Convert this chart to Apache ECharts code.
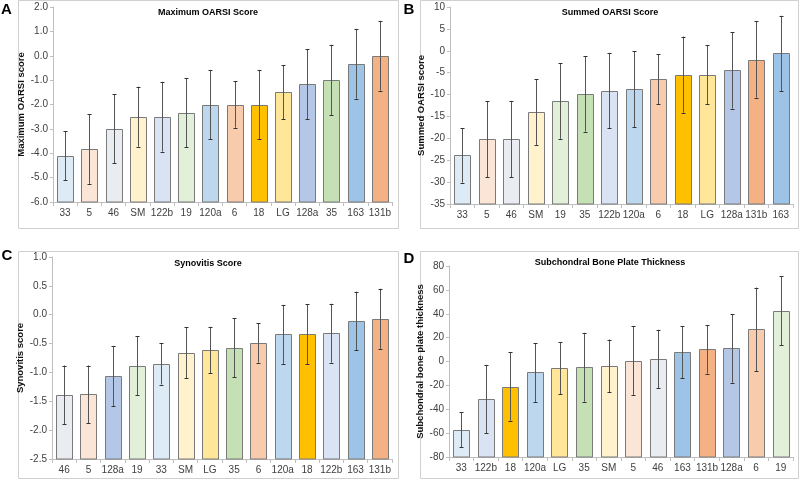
<!DOCTYPE html>
<html><head><meta charset="utf-8">
<script src="https://cdn.jsdelivr.net/npm/echarts@6/dist/echarts.min.js"></script>
<style>html,body{margin:0;padding:0;background:#fff}#c{width:800px;height:480px}</style>
</head><body><div id="c"></div>
<script>
// ---- Data ----
const catsA = ['33','5','46','SM','122b','19','120a','6','18','LG','128a','35','163','131b'];
const valsA = [-4.1,-3.82,-3.0,-2.5,-2.5,-2.33,-2.0,-2.0,-2.0,-1.5,-1.17,-1.0,-0.33,0.0];
const errA  = [1.0,1.43,1.42,1.23,1.43,1.42,1.42,0.95,1.42,1.11,1.43,1.45,1.43,1.43];

const catsB = ['33','5','46','SM','19','35','122b','120a','6','18','LG','128a','131b','163'];
const valsB = [-23.9,-20.2,-20.15,-14.0,-11.5,-9.85,-9.1,-8.8,-6.5,-5.45,-5.45,-4.5,-2.0,-0.6];
const errB  = [6.2,8.7,8.7,7.5,8.6,8.6,8.6,8.7,5.7,8.7,6.7,8.7,8.7,8.6];

const catsC = ['46','5','128a','19','33','SM','LG','35','6','120a','18','122b','163','131b'];
const valsC = [-1.39,-1.38,-1.06,-0.88,-0.85,-0.66,-0.61,-0.57,-0.49,-0.34,-0.34,-0.32,-0.11,-0.07];
const errC  = [0.51,0.5,0.52,0.51,0.36,0.44,0.4,0.51,0.34,0.51,0.52,0.51,0.51,0.52];

const catsD = ['33','122b','18','120a','LG','35','SM','5','46','163','131b','128a','6','19'];
const valsD = [-57,-31.5,-21,-9.2,-5.6,-4.8,-3.6,0.8,2.0,7.8,10.1,10.9,26.9,42.5];
const errD  = [14.6,28.6,28.6,24.6,22,28.8,22,28.7,24.6,22,20.2,28.6,35,28.8];

const titles = ['Maximum OARSI Score','Summed OARSI Score','Synovitis Score','Subchondral Bone Plate Thickness'];
const yNames = ['Maximum OARSI score','Summed OARSI score','Synovitis score','Subchondral bone plate thickness'];
const letters = ['A','B','C','D'];

// ---- Styles ----
const colorMap = {
  '33':'#DDEBF7','5':'#FBE5D6','46':'#E9EDF2','SM':'#FFF2CC','122b':'#DAE3F3','19':'#E2F0D9',
  '120a':'#BDD7EE','6':'#F8CBAD','18':'#FFC000','LG':'#FFE699','128a':'#B4C7E7','35':'#C5E0B4',
  '163':'#9DC3E6','131b':'#F4B183'
};
const narrow = "'Liberation Sans Narrow','Arial Narrow','Liberation Sans',Arial,sans-serif";
const sans = "'Liberation Sans',Arial,sans-serif";
const axisGrey = '#bfbfbf';

const panels = [
  {cats:catsA, vals:valsA, err:errA, min:-6, max:2, interval:1, dec:1, grid:{left:53,top:7,width:339,height:195}, nameGap:21},
  {cats:catsB, vals:valsB, err:errB, min:-35, max:10, interval:5, dec:0, grid:{left:450,top:7,width:343,height:197}, nameGap:18},
  {cats:catsC, vals:valsC, err:errC, min:-2.5, max:1, interval:0.5, dec:1, grid:{left:52,top:257,width:340,height:202}, nameGap:21},
  {cats:catsD, vals:valsD, err:errD, min:-80, max:80, interval:20, dec:0, grid:{left:449,top:266,width:344,height:191}, nameGap:17}
];

function makeRender(p){
  return function(params, api){
    const i = api.value(0), v = api.value(1), e = api.value(2);
    const top = api.coord([i, v]);
    const base = api.coord([i, p.min]);
    const hi = api.coord([i, v + e]);
    const lo = api.coord([i, v - e]);
    const w = api.size([1, 0])[0] * 0.66;
    const cx = Math.round(top[0]) + 0.5;
    const color = colorMap[p.cats[params.dataIndex]];
    return {type:'group', children:[
      {type:'rect', shape:{x:Math.round(top[0]-w/2)+0.5, y:Math.round(top[1])+0.5, width:Math.round(w), height:base[1]-Math.round(top[1])-0.5},
       style:{fill:color, stroke:'#7a7a7a', lineWidth:1}},
      {type:'line', shape:{x1:cx, y1:hi[1], x2:cx, y2:lo[1]}, style:{stroke:'#555555', lineWidth:1}},
      {type:'line', shape:{x1:cx-2, y1:Math.round(hi[1])+0.5, x2:cx+2, y2:Math.round(hi[1])+0.5}, style:{stroke:'#333333', lineWidth:1}},
      {type:'line', shape:{x1:cx-2, y1:Math.round(lo[1])+0.5, x2:cx+2, y2:Math.round(lo[1])+0.5}, style:{stroke:'#333333', lineWidth:1}}
    ]};
  };
}

const grids = [], xAxes = [], yAxes = [], series = [];
panels.forEach((p, k) => {
  grids.push(Object.assign({containLabel:false}, p.grid));
  xAxes.push({
    gridIndex:k, type:'category', data:p.cats,
    axisLine:{onZero:false, lineStyle:{color:axisGrey, width:1}},
    axisTick:{show:true, length:4, lineStyle:{color:axisGrey}},
    axisLabel:{interval:0, color:'#404040', fontSize:10, fontFamily:narrow, margin:6},
    splitLine:{show:false}
  });
  yAxes.push({
    gridIndex:k, type:'value', min:p.min, max:p.max, interval:p.interval,
    axisLine:{show:true, lineStyle:{color:axisGrey, width:1}},
    axisTick:{show:true, length:3, lineStyle:{color:axisGrey}},
    axisLabel:{color:'#404040', fontSize:10, fontFamily:narrow, margin:5,
      formatter:(val)=>Number(val).toFixed(p.dec)},
    splitLine:{show:false},
    name:yNames[k], nameLocation:'middle', nameGap:p.nameGap, nameRotate:90,
    nameTextStyle:{fontWeight:'bold', fontSize:9.5, color:'#111', fontFamily:sans}
  });
  series.push({
    type:'custom', xAxisIndex:k, yAxisIndex:k,
    data:p.vals.map((v, i) => [i, v, p.err[i]]),
    encode:{x:0, y:1},
    renderItem:makeRender(p),
    silent:true, animation:false
  });
});

const boxes = [
  {x:18.5, y:0.5, w:380, h:228},
  {x:420.5, y:0.5, w:378, h:228},
  {x:18.5, y:251.5, w:380, h:227},
  {x:420.5, y:251.5, w:378, h:227}
];
const titlePos = [[208,13],[610,13],[208,264],[610,263]];
const letterPos = [[6.5,10],[409,10],[7,256],[409,259]];

const graphic = [];
boxes.forEach(b => graphic.push({type:'rect', shape:{x:b.x, y:b.y, width:b.w, height:b.h},
  style:{fill:null, stroke:'#d0d0d0', lineWidth:1}, z:-1, silent:true}));
titles.forEach((t, k) => graphic.push({type:'text', x:titlePos[k][0], y:titlePos[k][1],
  style:{text:t, fill:'#000', font:'bold 9px ' + sans, textAlign:'center', textVerticalAlign:'middle'}}));
letters.forEach((t, k) => graphic.push({type:'text', x:letterPos[k][0], y:letterPos[k][1],
  style:{text:t, fill:'#000', font:'bold 15px ' + sans, textAlign:'center', textVerticalAlign:'middle'}}));

const chart = echarts.init(document.getElementById('c'), null, {renderer:'canvas'});
chart.setOption({
  animation:false,
  backgroundColor:'#ffffff',
  grid:grids, xAxis:xAxes, yAxis:yAxes, series:series, graphic:graphic
});
</script></body></html>
